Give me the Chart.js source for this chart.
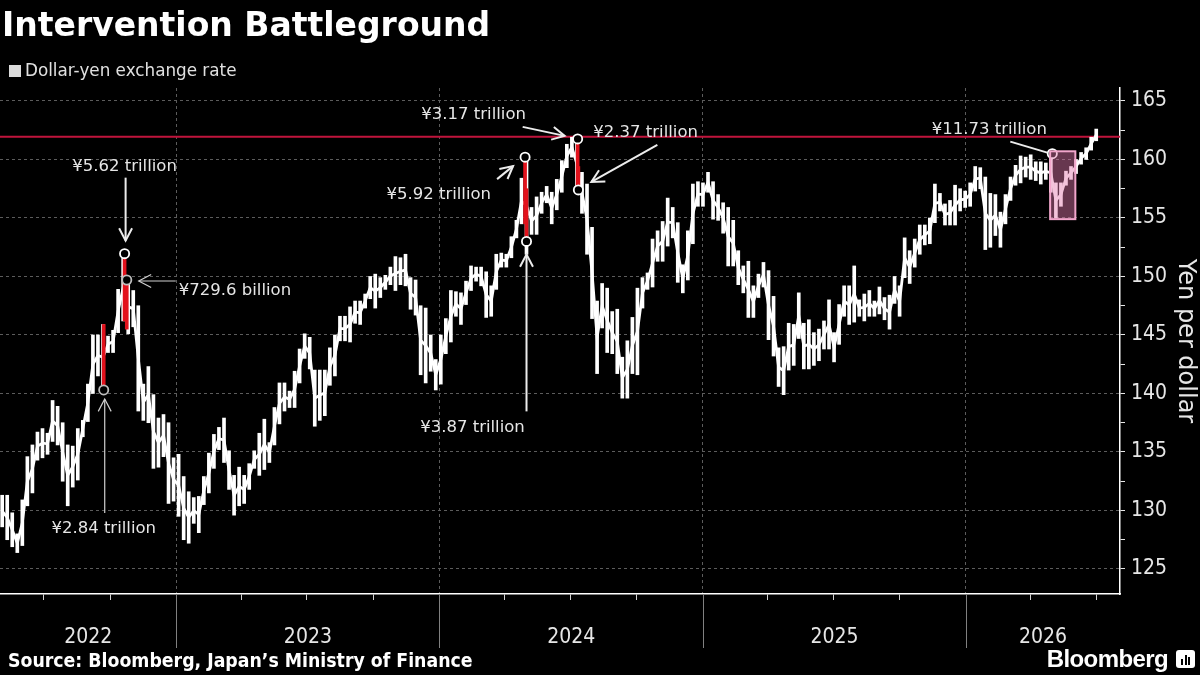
<!DOCTYPE html>
<html>
<head>
<meta charset="utf-8">
<script src="https://cdn.jsdelivr.net/npm/chart.js@4.4.1/dist/chart.umd.min.js"></script>
<style>
  html, body { margin: 0; padding: 0; background: #000; }
  #wrap { position: relative; width: 1200px; height: 675px; overflow: hidden; background: #000; }
  #chart { position: absolute; left: 0; top: 0; }
  .title { position: absolute; left: 2px; top: 8px; font: bold 33px/1 'DejaVu Sans', sans-serif; color: #fff; white-space: nowrap; }
  .legend { position: absolute; left: 9px; top: 62px; font: 16.8px/1 'DejaVu Sans', sans-serif; color: #e0e0e0; white-space: nowrap; }
  .legend i { display: inline-block; width: 12px; height: 12px; background: #dcdcdc; margin-right: 4px; vertical-align: -1px; }
  .source { position: absolute; left: 8px; top: 651px; font: bold 19.3px/1 'DejaVu Sans Condensed', 'DejaVu Sans', sans-serif; font-stretch: condensed; color: #fff; white-space: nowrap; }
  .brand { position: absolute; right: 32px; top: 647px; font: bold 24px/1 'Liberation Sans', sans-serif; color: #fff; letter-spacing: -0.6px; }
  .logo { position: absolute; left: 1176px; top: 650px; width: 19px; height: 18px; background: #fff; border-radius: 3px; }
  .logo b { position: absolute; bottom: 3px; width: 2px; background: #000; }
</style>
</head>
<body>
<div id="wrap">
  <canvas id="chart" width="1200" height="675"></canvas>
  <div class="title">Intervention Battleground</div>
  <div class="legend"><i></i>Dollar-yen exchange rate</div>
  <div class="source">Source: Bloomberg, Japan’s Ministry of Finance</div>
  <div class="brand">Bloomberg</div>
  <div class="logo"><b style="left:5px;height:6px"></b><b style="left:8.5px;height:10px"></b><b style="left:12px;height:8px"></b></div>
</div>
<script>
// Dollar-yen weekly trading ranges (week starting Monday)
const firstWeek = '2022-05-02';

const weeklyLows = [
  // 2022 (from May)
  128.6, 127.5, 126.9, 126.4, 127.0, 130.4, 131.5, 134.3, 134.5, 134.8, 135.9, 135.6,
  132.5, 130.4, 132.0, 132.6, 136.3, 137.6, 140.0, 141.5, 140.3, 143.5, 143.5, 145.2,
  146.2, 145.1, 145.7, 138.5, 137.7, 137.5, 133.6, 133.7, 134.6, 130.6, 130.8,
  // 2023
  129.5, 127.5, 127.2, 128.9, 128.1, 130.5, 131.5, 133.6, 135.2, 134.1, 131.8, 129.6, 130.4,
  130.6, 131.8, 133.6, 133.0, 133.5, 134.1, 135.6, 137.4, 138.5, 138.8, 138.8, 140.9, 143.0,
  142.1, 137.2, 137.7, 138.1, 140.7, 141.5, 144.5, 144.5, 144.4, 146.0, 145.9, 147.3, 148.1,
  147.3, 148.2, 148.9, 149.3, 148.8, 149.3, 149.2, 147.2, 146.7, 141.6, 140.9, 141.9, 140.3,
  // 2024
  140.8, 143.4, 144.4, 146.6, 145.9, 147.6, 148.8, 149.6, 149.2, 146.5, 146.6, 148.9, 150.8,
  150.8, 151.6, 153.3, 154.5, 151.9, 153.6, 153.6, 155.4, 156.3, 154.5, 155.7, 157.2, 159.3,
  160.2, 157.4, 155.4, 151.9, 146.4, 141.7, 145.6, 143.5, 143.4, 141.7, 139.6, 139.6, 141.7,
  141.6, 147.3, 148.9, 149.1, 151.3, 151.3, 152.6, 153.3, 149.5, 148.6, 149.7, 152.8, 156.0, 156.0,
  // 2025
  157.2, 154.9, 154.8, 153.7, 150.9, 150.9, 149.3, 148.6, 146.5, 146.5, 148.2, 149.1, 144.6,
  143.2, 140.6, 139.9, 142.0, 142.4, 144.7, 142.1, 142.1, 142.4, 142.8, 143.8, 143.8, 142.7,
  144.2, 146.6, 145.9, 146.1, 146.6, 146.2, 146.6, 146.6, 146.8, 146.3, 145.5, 147.7, 146.6,
  149.9, 149.4, 150.8, 151.9, 152.7, 152.8, 154.6, 155.6, 154.4, 154.4, 154.4, 155.6, 155.9,
  // 2026
  156.0, 157.3, 157.5, 152.3, 152.5, 153.5, 152.5, 154.5, 156.5, 157.8, 158.0, 158.5, 158.3,
  158.2, 157.9, 158.3, 157.2, 155.0, 156.0, 157.8, 158.3, 158.8, 159.6, 160.0, 160.8, 161.6
];

const weeklyHighs = [
  // 2022 (from May)
  131.3, 131.3, 129.8, 128.0, 130.9, 134.6, 135.6, 136.7, 137.0, 136.6, 139.4, 138.9,
  137.5, 135.6, 135.5, 137.0, 137.7, 140.8, 145.0, 145.0, 145.9, 144.9, 145.4, 148.9,
  151.9, 149.7, 148.8, 147.5, 140.8, 142.3, 139.9, 137.9, 138.2, 137.5, 134.5,
  // 2023
  134.8, 132.9, 131.6, 131.1, 131.2, 132.9, 134.9, 136.5, 137.1, 137.9, 135.1, 133.0, 133.7,
  133.0, 134.0, 135.1, 136.6, 137.8, 135.8, 138.8, 140.9, 140.9, 140.2, 141.9, 143.8, 145.1,
  144.8, 142.0, 142.0, 142.0, 143.9, 145.0, 146.6, 146.6, 147.4, 147.9, 147.9, 148.5, 150.0,
  150.2, 149.9, 150.1, 150.8, 151.7, 151.6, 151.9, 149.9, 149.7, 147.5, 147.3, 145.0, 142.9,
  // 2024
  145.0, 146.4, 148.8, 148.7, 148.6, 149.6, 150.9, 150.8, 150.8, 150.4, 149.2, 151.9, 152.0,
  151.9, 153.4, 154.8, 158.4, 160.2, 155.9, 156.8, 157.2, 157.7, 157.2, 158.3, 159.9, 161.3,
  161.9, 161.8, 158.9, 157.9, 154.2, 147.9, 149.4, 149.0, 147.0, 147.2, 143.1, 144.5, 146.5,
  149.0, 149.9, 150.3, 153.2, 153.9, 154.7, 156.7, 155.9, 154.6, 151.0, 153.9, 157.9, 158.1, 158.0,
  // 2025
  158.9, 158.1, 157.0, 156.3, 155.9, 154.8, 152.2, 150.9, 151.3, 149.2, 150.2, 151.2, 150.5,
  148.3, 143.9, 144.0, 146.0, 145.9, 148.6, 146.0, 146.3, 145.2, 145.5, 146.2, 148.0, 145.2,
  147.6, 149.2, 149.2, 150.9, 148.0, 148.5, 148.8, 147.9, 149.1, 148.2, 148.4, 150.0, 149.2,
  153.3, 152.2, 153.2, 154.4, 154.4, 155.0, 157.9, 157.1, 156.2, 156.5, 157.8, 157.5, 157.3,
  // 2026
  158.0, 159.4, 159.3, 158.5, 157.1, 157.0, 155.5, 157.0, 158.5, 159.5, 160.3, 160.2, 160.4,
  159.8, 159.8, 159.7, 160.5, 158.0, 158.0, 159.0, 159.4, 160.0, 160.6, 161.0, 161.9, 162.6
];

// Japan's interventions: day, amount, intraday high and low
const interventionDates = ['2022-09-22', '2022-10-21', '2022-10-24', '2024-04-29', '2024-05-01', '2024-07-11', '2024-07-12'];
const interventionAmounts = ['¥2.84 trillion', '¥5.62 trillion', '¥729.6 billion', '¥5.92 trillion', '¥3.87 trillion', '¥3.17 trillion', '¥2.37 trillion'];
const interventionHighs = [145.9, 151.95, 149.7, 160.2, 157.5, 161.76, 159.4];
const interventionLows = [140.3, 146.2, 145.5, 154.5, 153.0, 157.4, 157.3];
const markerValues = [140.3, 151.95, 149.7, 160.2, 153.0, 161.76, 157.4];

// latest episode, shown as a shaded period
const latestDate = '2026-05-01';
const latestValue = 160.5;
const latestAmount = '¥11.73 trillion';
const periodStart = '2026-04-28';
const periodEnd = '2026-06-02';
const periodLow = 154.9;
const periodHigh = 160.7;

const ceilingLevel = 161.95;

const yearLabels = ['2022', '2023', '2024', '2025', '2026'];
const yTickValues = [125, 127.5, 130, 132.5, 135, 137.5, 140, 142.5, 145, 147.5, 150, 152.5, 155, 157.5, 160, 162.5, 165];
const xStart = '2022-05-01';
const xEnd = '2026-08-03';
const yMin = 122.86;
const yMax = 166.11;

const WHITE = '#e6e6e6';
const GRID = '#5c5c5c';
const NARROW = "'DejaVu Sans Condensed', 'Liberation Sans Narrow', sans-serif";

function dayOf(s) {
  const [y, m, d] = s.split('-').map(Number);
  return (Date.UTC(y, m - 1, d) - Date.UTC(2022, 0, 1)) / 864e5;
}

const weekMid = weeklyLows.map((_, i) => dayOf(firstWeek) + 7 * i + 2);
const yearStarts = yearLabels.map((y) => dayOf(`${y}-01-01`));
const quarterTicks = [];
yearLabels.forEach((y) => {
  ['01', '04', '07', '10'].forEach((m) => {
    const d = dayOf(`${y}-${m}-01`);
    if (d > dayOf(xStart) && d < dayOf(xEnd)) quarterTicks.push(d);
  });
});

const markerDays = interventionDates.map(dayOf).concat([dayOf(latestDate)]);
const markerYs = markerValues.concat([latestValue]);
const noteTexts = interventionAmounts.concat([latestAmount]);

// label and arrow placement, in pixels relative to each circle
const notes = [
  { dx: 0, dy: 143, align: 'center', line: [1, 123, 1, 9], head: true, width: 1.2, color: '#cfcfcf' },
  { dx: 0, dy: -83, align: 'center', line: [1, -76, 1, -13], head: true, width: 2 },
  { dx: 52, dy: 15, align: 'left', line: [49, 1, 12, 1], head: true, width: 1.2, color: '#cfcfcf' },
  { dx: -34, dy: 42, align: 'right', line: [-28, 22, -12, 9], head: true, width: 2 },
  { dx: -54, dy: 191, align: 'center', line: [0, 170, 0, 13], head: true, width: 2 },
  { dx: -104, dy: -20, align: 'center', line: [-55, -12, -13, -3], head: true, width: 2 },
  { dx: 15, dy: -53, align: 'left', line: [79, -45, 13, -8], head: true, width: 2 },
  { dx: -63, dy: -20, align: 'center', line: [-42, -12, -5, -1], head: false, width: 2 },
];

function arrow(ctx, x1, y1, x2, y2, head) {
  ctx.beginPath();
  ctx.moveTo(x1, y1);
  ctx.lineTo(x2, y2);
  ctx.stroke();
  if (!head) return;
  const a = Math.atan2(y2 - y1, x2 - x1);
  const len = 14;
  const spread = 0.48;
  ctx.beginPath();
  ctx.moveTo(x2 - len * Math.cos(a - spread), y2 - len * Math.sin(a - spread));
  ctx.lineTo(x2, y2);
  ctx.lineTo(x2 - len * Math.cos(a + spread), y2 - len * Math.sin(a + spread));
  ctx.stroke();
}

const ceilingLine = {
  id: 'ceilingLine',
  beforeDatasetsDraw(chart) {
    const { ctx, chartArea, scales: { y } } = chart;
    const py = y.getPixelForValue(ceilingLevel);
    ctx.save();
    ctx.strokeStyle = '#c0143c';
    ctx.lineWidth = 2;
    ctx.beginPath();
    ctx.moveTo(chartArea.left, py);
    ctx.lineTo(chartArea.right, py);
    ctx.stroke();
    ctx.restore();
  },
};

const periodBox = {
  id: 'periodBox',
  afterDatasetsDraw(chart) {
    const { ctx, scales: { x, y } } = chart;
    const x1 = x.getPixelForValue(dayOf(periodStart));
    const x2 = x.getPixelForValue(dayOf(periodEnd));
    const y1 = y.getPixelForValue(periodHigh);
    const y2 = y.getPixelForValue(periodLow);
    ctx.save();
    ctx.fillStyle = 'rgba(228, 122, 176, 0.45)';
    ctx.fillRect(x1, y1, x2 - x1, y2 - y1);
    ctx.strokeStyle = '#f2a6cc';
    ctx.lineWidth = 2;
    ctx.strokeRect(x1, y1, x2 - x1, y2 - y1);
    ctx.restore();
  },
};

const annotations = {
  id: 'annotations',
  afterDraw(chart) {
    const { ctx, scales: { x, y } } = chart;
    ctx.save();
    ctx.font = "16.5px 'DejaVu Sans', sans-serif";
    ctx.textBaseline = 'alphabetic';
    notes.forEach((n, i) => {
      const px = x.getPixelForValue(markerDays[i]);
      const py = y.getPixelForValue(markerYs[i]);
      ctx.strokeStyle = n.color || '#ececec';
      ctx.lineWidth = n.width;
      arrow(ctx, px + n.line[0], py + n.line[1], px + n.line[2], py + n.line[3], n.head);
      ctx.fillStyle = '#e6e6e6';
      ctx.textAlign = n.align;
      ctx.fillText(noteTexts[i], px + n.dx, py + n.dy);
    });
    ctx.restore();
  },
};

const yearAxis = {
  id: 'yearAxis',
  afterDraw(chart) {
    const { ctx, chartArea, scales: { x } } = chart;
    ctx.save();
    ctx.strokeStyle = '#808080';
    ctx.lineWidth = 1;
    yearStarts.forEach((d) => {
      if (d <= x.min || d >= x.max) return;
      const px = Math.round(x.getPixelForValue(d)) + 0.5;
      ctx.beginPath();
      ctx.moveTo(px, chartArea.bottom);
      ctx.lineTo(px, chartArea.bottom + 54);
      ctx.stroke();
    });
    ctx.fillStyle = WHITE;
    ctx.font = `21px ${NARROW}`;
    ctx.textAlign = 'center';
    ctx.textBaseline = 'alphabetic';
    yearLabels.forEach((label) => {
      const a = Math.max(dayOf(`${label}-01-01`), x.min);
      const b = Math.min(dayOf(`${+label + 1}-01-01`), x.max);
      ctx.fillText(label, x.getPixelForValue((a + b) / 2), chartArea.bottom + 49);
    });
    ctx.restore();
  },
};

new Chart(document.getElementById('chart'), {
  type: 'bar',
  data: {
    datasets: [
      {
        type: 'scatter',
        data: markerDays.map((d, i) => ({ x: d, y: markerYs[i] })),
        pointRadius: 4.6,
        pointBorderWidth: 1.8,
        pointBorderColor: ['#bdbdbd', '#ffffff', '#bdbdbd', '#ffffff', '#ffffff', '#ffffff', '#ffffff', '#ffffff'],
        pointBackgroundColor: '#000',
        order: 1,
      },
      {
        data: interventionDates.map((d, i) => ({ x: dayOf(d), y: [interventionLows[i], interventionHighs[i]] })),
        backgroundColor: '#e2121c',
        barThickness: 3,
        grouped: false,
        order: 2,
      },
      {
        // weekly high-low whiskers
        data: weekMid.map((d, i) => ({ x: d, y: [weeklyLows[i], weeklyHighs[i]] })),
        backgroundColor: '#ffffff',
        barThickness: 3,
        grouped: false,
        order: 3,
      },
      {
        // line through the middle of each weekly range
        type: 'line',
        data: weekMid.map((d, i) => ({ x: d, y: (weeklyLows[i] + weeklyHighs[i]) / 2 })),
        borderColor: '#ffffff',
        borderWidth: 2.8,
        pointRadius: 0,
        tension: 0,
        order: 4,
      },
    ],
  },
  options: {
    responsive: false,
    animation: false,
    events: [],
    layout: { autoPadding: false, padding: { top: 88, bottom: 75, left: 0, right: 0 } },
    plugins: { legend: { display: false }, tooltip: { enabled: false } },
    scales: {
      x: {
        type: 'linear',
        min: dayOf(xStart),
        max: dayOf(xEnd),
        offset: false,
        afterBuildTicks: (s) => { s.ticks = quarterTicks.map((v) => ({ value: v })); },
        ticks: { display: false },
        grid: {
          offset: false,
          color: (c) => (c.tick && yearStarts.includes(c.tick.value) ? GRID : 'transparent'),
          tickColor: (c) => (c.tick && yearStarts.includes(c.tick.value) ? 'transparent' : '#d0d0d0'),
          tickLength: 6,
          lineWidth: 1,
        },
        border: { display: true, color: '#ffffff', width: 1.5, dash: [3, 3] },
      },
      y: {
        position: 'right',
        min: yMin,
        max: yMax,
        afterBuildTicks: (s) => { s.ticks = yTickValues.map((v) => ({ value: v })); },
        afterFit: (s) => { s.width = 80; },
        grid: {
          color: (c) => (c.tick && c.tick.value % 5 === 0 ? GRID : 'transparent'),
          tickColor: WHITE,
          tickLength: 5,
          lineWidth: 1,
        },
        border: { display: true, color: '#ffffff', width: 1.5, dash: [3, 3] },
        ticks: {
          color: WHITE,
          padding: 6,
          font: { family: NARROW, size: 21 },
          callback: (v) => (v % 5 === 0 ? String(v) : ''),
        },
        title: {
          display: true,
          text: 'Yen per dollar',
          color: WHITE,
          padding: 0,
          font: { family: "'DejaVu Sans', sans-serif", size: 24 },
        },
      },
    },
  },
  plugins: [ceilingLine, periodBox, annotations, yearAxis],
});
</script>
</body>
</html>
